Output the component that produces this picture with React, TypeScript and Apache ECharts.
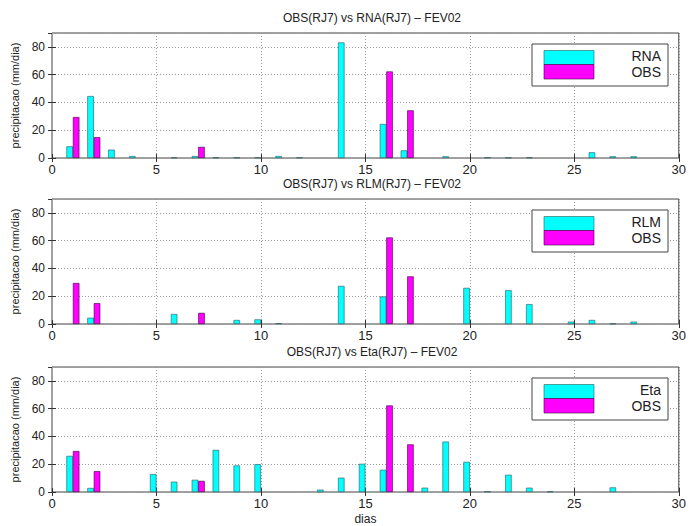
import React, { useEffect, useRef } from "react";
import * as echarts from "echarts";

const modelNames = ["RNA", "RLM", "Eta"];
const titles = [
  "OBS(RJ7) vs RNA(RJ7) – FEV02",
  "OBS(RJ7) vs RLM(RJ7) – FEV02",
  "OBS(RJ7) vs Eta(RJ7) – FEV02",
];
const xTicks = [0, 5, 10, 15, 20, 25, 30];
const yTicks = [0, 20, 40, 60, 80];

// observed precipitation (same in the three panels): [day, mm/dia]
const obsData: [number, number][] = [
  [1, 29.5], [2, 15], [7, 8], [16, 62.3], [17, 34.3],
];
const rnaData: [number, number][] = [
  [1, 8.4], [2, 44.6], [3, 6], [4, 1.4], [6, 0.3], [7, 1.4], [8, 0.3], [9, 0.3],
  [10, 0.3], [11, 1.4], [12, 0.3], [14, 83.2], [16, 24.5], [17, 5.5], [19, 1.2],
  [21, 0.3], [22, 0.3], [23, 0.3], [26, 4.1], [27, 1.2], [28, 1.2],
];
const rlmData: [number, number][] = [
  [2, 4.5], [6, 7.2], [9, 2.9], [10, 3.3], [11, 0.5], [14, 27.4], [16, 19.8],
  [20, 26], [22, 24.3], [23, 14.3], [25, 1.7], [26, 2.9], [27, 0.3], [28, 1.7],
];
const etaData: [number, number][] = [
  [1, 26], [2, 2.9], [5, 12.9], [6, 7.4], [7, 8.8], [8, 30.3], [9, 19.1], [10, 20],
  [13, 1.7], [14, 10.3], [15, 20.3], [16, 16], [18, 3.1], [19, 36.3], [20, 21.7],
  [21, 0.3], [22, 12.4], [23, 3.1], [24, 0.3], [27, 3.3],
];
const modelData = [rnaData, rlmData, etaData];

const CYAN = "#00ffff";
const MAGENTA = "#ff00ff";
const FONT = "Liberation Sans, Arial, sans-serif";
const TEXT = "#222";

const GRID_LEFT = 52;
const GRID_W = 630;
const GRID_H = 125;
const gridTops = [33, 199, 367];

export default function App() {
  const ref = useRef<HTMLDivElement>(null);

  useEffect(() => {
    if (!ref.current) return;
    const chart = echarts.init(ref.current, null, { renderer: "svg" });

    const grids: any[] = [];
    const xAxes: any[] = [];
    const yAxes: any[] = [];
    const series: any[] = [];
    const titleArr: any[] = [];
    const graphics: any[] = [];

    const tickStyle = { show: true, inside: true, length: 4, lineStyle: { color: "#333", width: 1 } };
    const splitStyle = { show: true, lineStyle: { color: "#999", type: [1, 2], width: 1 } };

    for (let i = 0; i < 3; i++) {
      const top = gridTops[i];
      grids.push({
        left: GRID_LEFT, width: GRID_W, top, height: GRID_H,
        show: true, borderColor: "#444", borderWidth: 1, backgroundColor: "#fff",
      });
      xAxes.push({
        type: "value", gridIndex: i, min: xTicks[0], max: xTicks[xTicks.length - 1], interval: 5,
        axisLine: { show: false }, axisTick: tickStyle, splitLine: splitStyle,
        axisLabel: { color: TEXT, fontSize: 13, fontFamily: FONT, margin: 5 },
        ...(i === 2 ? {
          name: "dias", nameLocation: "middle", nameGap: 21,
          nameTextStyle: { color: TEXT, fontSize: 12, fontFamily: FONT },
        } : {}),
      });
      yAxes.push({
        type: "value", gridIndex: i, min: 0, max: 90, interval: 20,
        axisLine: { show: false }, axisTick: tickStyle, splitLine: splitStyle,
        axisLabel: {
          color: TEXT, fontSize: 12, fontFamily: FONT, margin: 7, showMaxLabel: false,
          formatter: (v: number) => (yTicks.indexOf(v) >= 0 ? String(v) : ""),
        },
        name: "precipitacao (mm/dia)", nameLocation: "middle", nameGap: 32, nameRotate: 90,
        nameTextStyle: { color: TEXT, fontSize: 11, fontFamily: FONT },
      });
      titleArr.push({
        text: titles[i], left: GRID_LEFT + GRID_W / 2, top: top - 26, textAlign: "center",
        textStyle: { color: TEXT, fontSize: 12, fontWeight: "normal", fontFamily: FONT },
      });
      series.push({
        type: "bar", name: modelNames[i], xAxisIndex: i, yAxisIndex: i,
        data: modelData[i], barWidth: 6.5, barGap: "0%",
        itemStyle: { color: CYAN, borderColor: "#2a5a5a", borderWidth: 0.6 },
      });
      series.push({
        type: "bar", name: "OBS", xAxisIndex: i, yAxisIndex: i,
        data: obsData, barWidth: 6.5, barGap: "0%",
        itemStyle: { color: MAGENTA, borderColor: "#3a003a", borderWidth: 0.6 },
      });

      // legend box
      const bx = 532, by = top + 11, bw = 136, bh = 42;
      graphics.push(
        { type: "rect", shape: { x: bx, y: by, width: bw, height: bh }, style: { fill: "#fff", stroke: "#444", lineWidth: 1 }, z: 100 },
        { type: "rect", shape: { x: 544, y: top + 17.5, width: 50, height: 14 }, style: { fill: CYAN, stroke: "#2a5a5a", lineWidth: 0.6 }, z: 101 },
        { type: "rect", shape: { x: 544, y: top + 31.5, width: 50, height: 14.5 }, style: { fill: MAGENTA, stroke: "#3a003a", lineWidth: 0.6 }, z: 101 },
        { type: "text", x: 661, y: top + 23, style: { text: modelNames[i], fill: TEXT, font: `14px ${FONT}`, align: "right", verticalAlign: "middle" }, z: 102 },
        { type: "text", x: 661, y: top + 39, style: { text: "OBS", fill: TEXT, font: `14px ${FONT}`, align: "right", verticalAlign: "middle" }, z: 102 },
      );
    }
    // top / right tick-only axes for the boxed look
    for (let i = 0; i < 3; i++) {
      xAxes.push({
        type: "value", gridIndex: i, position: "top", min: 0, max: 30, interval: 5,
        axisLine: { show: false }, axisTick: tickStyle, axisLabel: { show: false }, splitLine: { show: false },
      });
      yAxes.push({
        type: "value", gridIndex: i, position: "right", min: 0, max: 90, interval: 20,
        axisLine: { show: false }, axisTick: tickStyle, axisLabel: { show: false }, splitLine: { show: false },
      });
    }

    chart.setOption({
      animation: false,
      backgroundColor: "#fff",
      title: titleArr,
      grid: grids,
      xAxis: xAxes,
      yAxis: yAxes,
      series,
      graphic: graphics,
    });
    return () => chart.dispose();
  }, []);

  return <div ref={ref} style={{ width: 689, height: 526, position: "absolute", left: 0, top: 0 }} />;
}
